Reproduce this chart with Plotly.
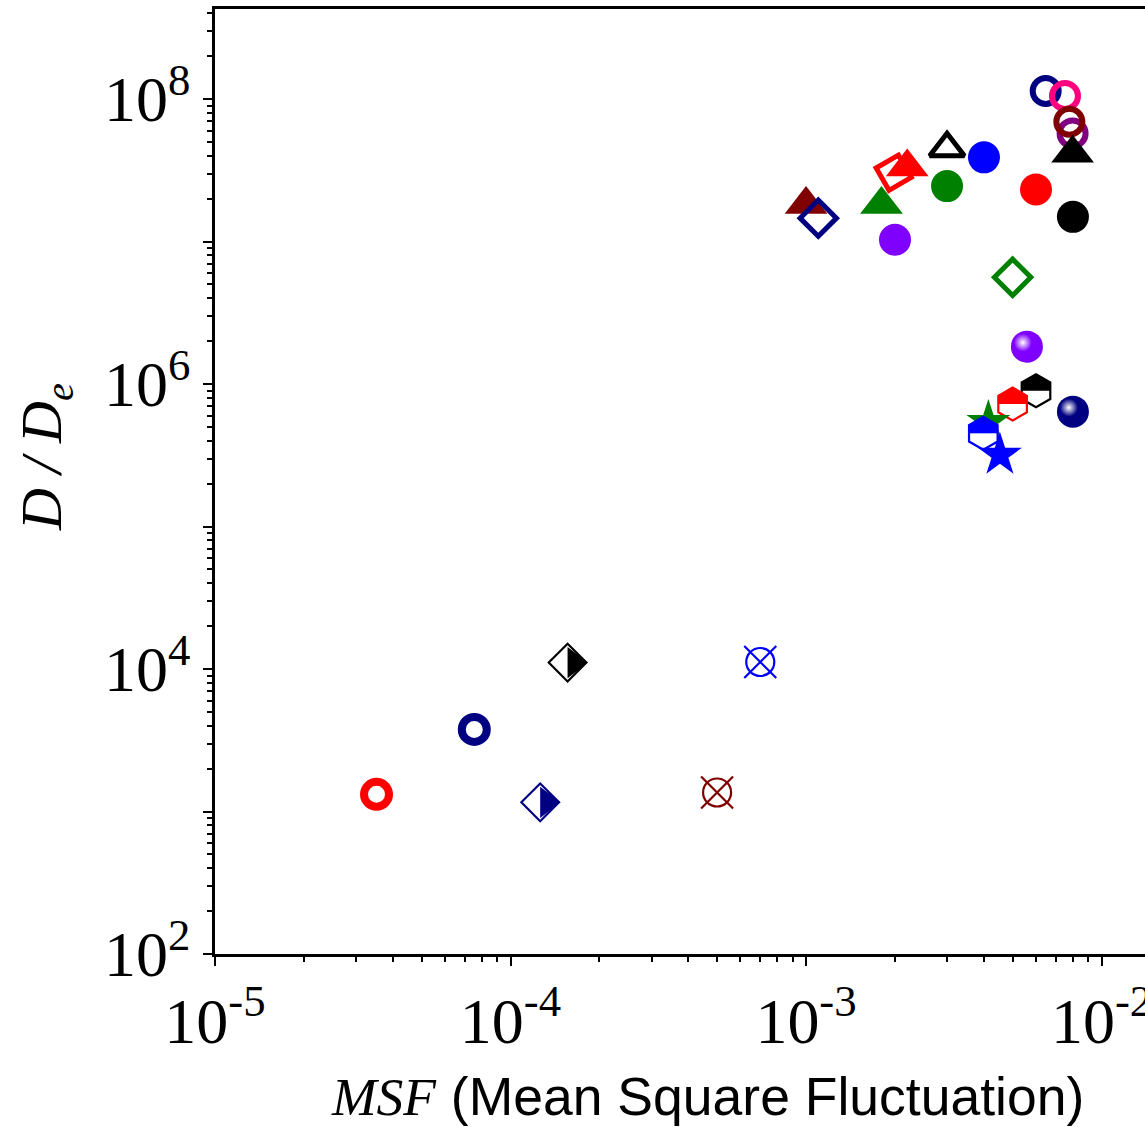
import plotly.graph_objects as go

# ---------------- data ----------------
systems = [
    "S12", "S13", "S14", "S16", "S08", "S09", "S06", "S10", "S07", "S11",
    "S15", "S01", "S02", "S04", "S03", "S05", "S17", "S18", "S24", "S19",
    "S20", "S21", "S22", "S23", "S25", "S26", "S27", "S28", "S29", "S30",
]
msf = [
    1.0e-3, 1.1e-3, 1.8e-3, 2.0e-3, 1.98e-3, 2.2e-3, 3.0e-3, 3.0e-3, 4.0e-3, 6.0e-3,
    8.0e-3, 6.47e-3, 7.52e-3, 7.98e-3, 7.78e-3, 7.98e-3, 5.0e-3, 5.59e-3, 8.0e-3, 6.0e-3,
    5.0e-3, 4.14e-3, 3.98e-3, 4.53e-3, 1.56e-4, 7.0e-4, 7.54e-5, 3.52e-5, 1.26e-4, 5.0e-4,
]
d_ratio = [
    1.82e7, 1.46e7, 1.82e7, 1.03e7, 3.04e7, 3.34e7, 4.51e7, 2.45e7, 3.90e7, 2.32e7,
    1.49e7, 1.14e8, 1.05e8, 5.74e7, 6.93e7, 4.17e7, 5.61e6, 1.83e6, 6.40e5, 8.97e5,
    7.24e5, 5.41e5, 4.51e5, 3.18e5, 1.11e4, 1.12e4, 3.77e3, 1.32e3, 1.16e3, 1.36e3,
]
marker_kind = [
    "tri", "open_diamond", "tri", "circle", "open_diamond_rot", "tri", "open_tri", "circle", "circle", "circle",
    "circle", "ring", "ring", "ring", "ring", "tri", "open_diamond", "sphere", "sphere", "half_hex",
    "half_hex", "star", "half_hex", "star", "half_diamond", "circle_x", "ring_thick", "ring_thick", "half_diamond", "circle_x",
]
marker_color = [
    "#800000", "#000080", "#008000", "#8000FF", "#FF0000", "#FF0000", "#000000", "#008000", "#0000FF", "#FF0000",
    "#000000", "#000080", "#FF0080", "#800080", "#800000", "#000000", "#008000", "#8000FF", "#000080", "#000000",
    "#FF0000", "#008000", "#0000FF", "#0000FF", "#000000", "#0000FF", "#000080", "#FF0000", "#000080", "#800000",
]

x_tickvals = [1e-5, 1e-4, 1e-3, 1e-2]
x_ticktext = ["10<sup>-5</sup>", "10<sup>-4</sup>", "10<sup>-3</sup>", "10<sup>-2</sup>"]
y_tickvals = [1e2, 1e3, 1e4, 1e5, 1e6, 1e7, 1e8]
y_ticktext = ["10<sup>2</sup>", "", "10<sup>4</sup>", "", "10<sup>6</sup>", "", "10<sup>8</sup>"]

# ---------------- figure ----------------
fig = go.Figure()


def layer(name, x, y, **marker):
    fig.add_trace(go.Scatter(x=[x], y=[y], mode="markers", name=name,
                             marker=marker, showlegend=False, hoverinfo="skip"))


for name, x, y, kind, c in zip(systems, msf, d_ratio, marker_kind, marker_color):
    if kind == "circle":
        layer(name, x, y, symbol="circle", size=32, color=c, line=dict(width=0))
    elif kind == "ring":
        layer(name, x, y, symbol="circle-open", size=26, color=c, line=dict(width=6, color=c))
    elif kind == "ring_thick":
        layer(name, x, y, symbol="circle-open", size=25, color=c, line=dict(width=8, color=c))
    elif kind == "tri":
        layer(name, x, y, symbol="triangle-up", size=37, color=c, line=dict(width=0))
    elif kind == "open_tri":
        layer(name, x, y, symbol="triangle-up-open", size=30, color=c, line=dict(width=5, color=c))
    elif kind == "open_diamond":
        layer(name, x, y, symbol="diamond-open", size=28, color=c, line=dict(width=5, color=c))
    elif kind == "open_diamond_rot":
        layer(name, x, y, symbol="diamond-open", size=28, color=c, angle=15,
              line=dict(width=5, color=c))
    elif kind == "star":
        layer(name, x, y, symbol="star", size=33, color=c, line=dict(width=0))
    elif kind == "sphere":
        layer(name, x, y, symbol="circle", size=32, color=c, line=dict(width=0))
        layer(name, x, y, symbol="circle", size=18, color=c, angle=135, standoff=5.7,
              gradient=dict(type="radial", color="#FFFFFF"), line=dict(width=0))
    elif kind == "half_hex":
        layer(name, x, y, symbol="hexagon", size=33, color=c, line=dict(width=0))
        layer(name, x, y, symbol="square", size=30, color="#FFFFFF", standoff=15,
              line=dict(width=0))
        layer(name, x, y, symbol="hexagon-open", size=33, color=c, line=dict(width=2.2, color=c))
    elif kind == "half_diamond":
        layer(name, x, y, symbol="triangle-down", size=27, color=c, angle=-90, standoff=6.75,
              line=dict(width=0))
        layer(name, x, y, symbol="diamond-open", size=29, color=c, line=dict(width=2.2, color=c))
    elif kind == "circle_x":
        layer(name, x, y, symbol="circle-open", size=28, color=c, line=dict(width=2.2, color=c))
        layer(name, x, y, symbol="x-thin-open", size=32, color=c, line=dict(width=2.2, color=c))

minor_x = [m * 10.0 ** e for e in range(-5, -1) for m in range(2, 10)]
minor_y = [m * 10.0 ** e for e in range(2, 9) for m in range(2, 10)]

tick_font = dict(family="Liberation Serif", size=64, color="black")

fig.update_xaxes(
    type="log", range=[-5, -1.853], showline=True, linecolor="black", linewidth=2.5,
    mirror=True, ticks="outside", ticklen=9, tickwidth=2, tickcolor="black",
    tickmode="array", tickvals=x_tickvals, ticktext=x_ticktext, tickfont=tick_font,
    ticklabeloverflow="allow", automargin=False,
    minor=dict(ticks="outside", ticklen=5, tickwidth=1.5, tickcolor="black",
               tickmode="array", tickvals=minor_x, showgrid=False),
    showgrid=False, zeroline=False,
)
fig.update_yaxes(
    type="log", range=[2, 8.632], showline=True, linecolor="black", linewidth=2.5,
    mirror=False, ticks="outside", ticklen=9, tickwidth=2, tickcolor="black",
    tickmode="array", tickvals=y_tickvals, ticktext=y_ticktext, tickfont=tick_font,
    ticklabeloverflow="allow", automargin=False,
    minor=dict(ticks="outside", ticklen=5, tickwidth=1.5, tickcolor="black",
               tickmode="array", tickvals=minor_y, showgrid=False),
    showgrid=False, zeroline=False,
)

fig.add_annotation(
    xref="paper", yref="paper", x=0.5296, y=-0.1513, xanchor="center", yanchor="middle",
    showarrow=False,
    text='<span style="font-family:Liberation Serif"><i>MSF</i></span> (Mean Square Fluctuation)',
    font=dict(family="Liberation Sans", size=53.5, color="black"),
)
fig.add_annotation(
    xref="paper", yref="paper", x=-0.1817, y=0.526, xanchor="center", yanchor="middle",
    showarrow=False, textangle=-90, borderpad=0,
    text="<i>D</i> <i>/</i> <i>D</i><sub><i>e</i></sub>",
    font=dict(family="Liberation Serif", size=58, color="black"),
)

fig.update_layout(
    width=1145, height=1127,
    margin=dict(l=215, r=0, t=9, b=173, pad=0, autoexpand=False),
    plot_bgcolor="white", paper_bgcolor="white",
)

# remove the browser's default 8 px page margin so the figure fills the window exactly
fig.write_html("out.html",
               config={"displayModeBar": False},
               post_script="document.body.style.margin='0px';document.body.style.overflow='hidden';")
